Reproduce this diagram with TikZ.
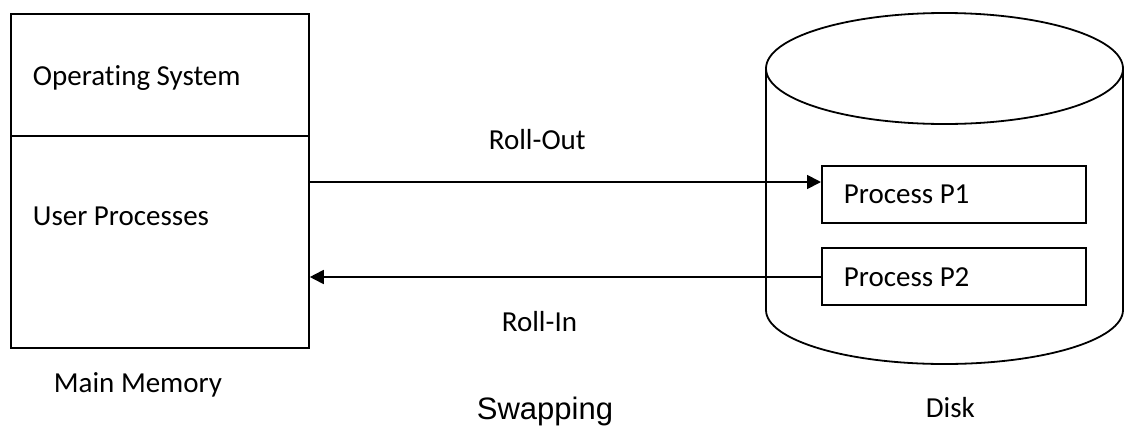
\documentclass[tikz,border=0pt]{standalone}
\usepackage{fontspec}
\setmainfont{Carlito}[Ligatures={NoCommon}]
\newfontfamily\arialfont{Liberation Sans}
\usetikzlibrary{arrows.meta}
\begin{document}
\begin{tikzpicture}[x=1pt,y=-1pt,
  line width=1.8pt,
  lbl/.style={inner sep=0pt,anchor=base west,font=\fontsize{29}{35}\selectfont},
  arr/.style={-{Triangle[length=14pt,width=14pt]}},
  procbox/.style={draw,rectangle,minimum width=264pt,minimum height=57pt,inner sep=0pt,anchor=north west}]
\useasboundingbox (0,0) rectangle (1125,426);
% Main memory
\node[draw,rectangle,minimum width=298pt,minimum height=334pt,inner sep=0pt,anchor=north west] (mm) at (10,13) {};
\coordinate (divL) at (10,136);
\coordinate (divR) at (308,136);
\draw (divL) -- (divR);
\node[lbl] (os) at (32,85) {Operating System};
\node[lbl] (up) at (32,225) {User Processes};
\node[lbl] (mmlbl) at (53,392) {Main Memory};
% Disk cylinder
\coordinate (tc) at (944.5,68.5);
\coordinate (bc) at (944.5,310);
\draw (tc) ellipse [x radius=178.5pt, y radius=55.5pt];
\draw (766,68.5) -- (766,310) arc[start angle=180,end angle=360,x radius=178.5pt,y radius=54pt] -- (1123,68.5);
\node[lbl] (disk) at (925,417) {Disk};
% Process boxes
\node[procbox] (p1) at (821,165) {};
\node[procbox] (p2) at (821,247) {};
\node[lbl] (p1t) at (843,203) {Process P1};
\node[lbl] (p2t) at (843,286) {Process P2};
% Arrows
\draw[arr] (mm.east |- 0,182) -- (p1.west |- 0,182);
\draw[arr] (p2.west |- 0,277) -- (mm.east |- 0,277);
\node[lbl] (ro) at (488,149) {Roll-Out};
\node[lbl] (ri) at (501,331) {Roll-In};
\node[inner sep=0pt,anchor=base west,font=\arialfont\fontsize{31}{37}\selectfont] (sw) at (476,419) {Swapping};
\end{tikzpicture}
\end{document}
